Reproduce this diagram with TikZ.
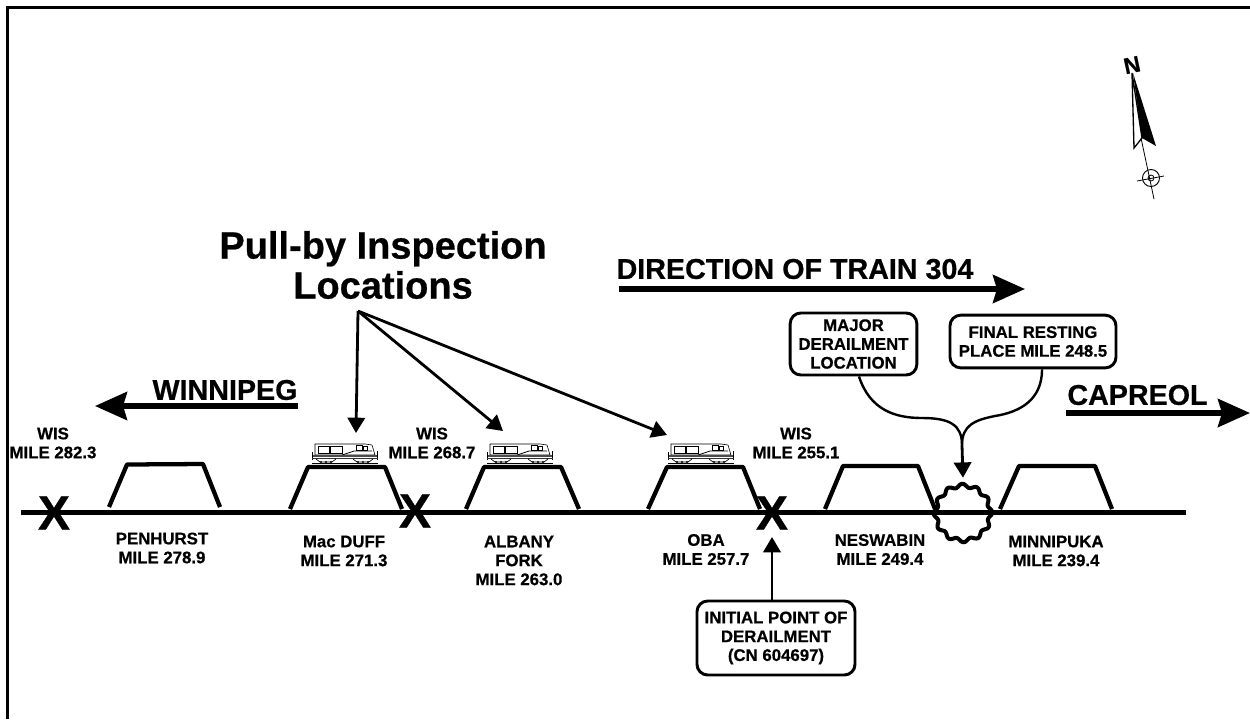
\documentclass[tikz,border=0pt]{standalone}
\usepackage{fontspec}
\setmainfont[BoldFeatures={FakeBold=0.6}]{Liberation Sans}
\usetikzlibrary{arrows.meta}
\tikzset{
  lbl/.style={font=\bfseries\fontsize{12.6}{14.2}\selectfont,align=center,inner sep=0pt},
  big/.style={font=\bfseries\fontsize{21.5}{25}\selectfont,inner sep=0pt},
  huge/.style={font=\bfseries\fontsize{28.5}{30}\selectfont,align=center,inner sep=0pt},
  xmark/.style={font=\bfseries\fontsize{36}{36}\selectfont,inner sep=0pt},
  callout/.style={draw,line width=2.2pt,rounded corners=8pt,inner sep=0pt,font=\bfseries\fontsize{12.6}{14.1}\selectfont,align=center},
  bank/.style={line width=3.2pt,line join=round},
  track/.style={line width=3.9pt},
  bigarrow/.style={line width=4pt,-{Stealth[length=24pt,width=21pt,inset=3pt]}},
  pointer/.style={line width=2.1pt,-{Triangle[length=11.5pt,width=13pt]}},
  curve/.style={line width=1.8pt},
  loco/.pic={
    \draw[line width=.45pt,fill=white] (3,11) -- (3,2) -- (53,2) -- (60,3) -- (63,13) -- (3,13) -- cycle;
    \draw[line width=.5pt] (6,4) rectangle (17,11);
    \draw[line width=.5pt] (18,4) rectangle (30,11);
    \draw[line width=.5pt] (44,3) rectangle (50,8);
    \draw[line width=.5pt] (51,4) rectangle (55,8);
    \draw[line width=.6pt] (30,13) -- (42,9) -- (60,9);
    \draw[line width=1pt,black!70] (0,14) -- (65,14);
    \draw[line width=.5pt] (0,10) -- (0,18);
    \draw[line width=.5pt] (65,9) -- (65,18);
    \draw[line width=1.1pt,black!80] (0,16.5) -- (66,16.5);
    \draw[line width=.5pt] (4,17) -- (8,20) -- (20,20) -- (24,17);
    \draw[line width=.5pt] (41,17) -- (45,20) -- (57,20) -- (61,17);
    \foreach \w in {9,14,19,46,51,56} \fill (\w,20) circle (1.1);
    \draw[line width=.7pt] (0,21) -- (66,21);
  }
}
\begin{document}
\begin{tikzpicture}[x=0.75pt,y=-0.75pt]
\useasboundingbox (0,0) rectangle (1250,719);
% frame
\draw[line width=2.5pt] (7.5,719) -- (7.5,7.5) -- (1250,7.5);
% track
\coordinate (trackL) at (21,512.5);
\coordinate (trackR) at (1186,512.5);
\draw[track] (trackL) -- (trackR);
% banks
\draw[bank] (109,507) -- (127,464.5) -- (203,464) -- (220,507);
\draw[bank] (290,509) -- (308,467) -- (385,467) -- (402,509);
\draw[bank] (466,509) -- (484,467) -- (561,467) -- (579,509);
\draw[bank] (648,509) -- (667,467) -- (743,467) -- (760,509);
\draw[bank] (825,509) -- (843,466) -- (918,466) -- (935,509);
\draw[bank] (1000,509) -- (1019,466) -- (1095,466) -- (1112,509);
% X marks
\node[xmark] (x1) at (54,513) {X};
\node[xmark] (x2) at (415,511) {X};
\node[xmark] (x3) at (772,513) {X};
% locos
\pic (loco1) at (312,442) {loco};
\pic (loco2) at (487,442) {loco};
\pic (loco3) at (668,442) {loco};
% WIS labels
\node[lbl] (wis1) at (53,443) {WIS\\MILE 282.3};
\node[lbl] (wis2) at (432,443) {WIS\\MILE 268.7};
\node[lbl] (wis3) at (796,443) {WIS\\MILE 255.1};
% station labels
\node[lbl] (st1) at (162,548) {PENHURST\\MILE 278.9};
\node[lbl] (st2) at (344,551) {Mac DUFF\\MILE 271.3};
\node[lbl] (st3) at (519,560.5) {ALBANY\\FORK\\MILE 263.0};
\node[lbl] (st4) at (706,549.5) {OBA\\MILE 257.7};
\node[lbl] (st5) at (880,549.5) {NESWABIN\\MILE 249.4};
\node[lbl] (st6) at (1056,551) {MINNIPUKA\\MILE 239.4};
% headings
\node[huge] (pull) at (383,265) {Pull-by Inspection\\Locations};
\node[big] (dir) at (795,269) {DIRECTION OF TRAIN 304};
\node[big] (win) at (225,390) {WINNIPEG};
\node[big] (cap) at (1137.5,395) {CAPREOL};
% big arrows
\coordinate (dirA) at (619,289);
\coordinate (dirB) at (1025,289);
\draw[bigarrow] (dirA) -- (dirB);
\coordinate (winA) at (298,406);
\coordinate (winB) at (95,406);
\draw[bigarrow] (winA) -- (winB);
\coordinate (capA) at (1066,413);
\coordinate (capB) at (1250,413);
\draw[bigarrow] (capA) -- (capB);
% pull-by pointers
\coordinate (hub) at (358,311);
\coordinate (t1) at (356,433);
\coordinate (t2) at (503,431);
\coordinate (t3) at (667,435);
\draw[pointer] (hub) -- (t1);
\draw[pointer] (hub) -- (t2);
\draw[pointer] (hub) -- (t3);
% callouts
\node[callout,minimum width=95pt,minimum height=46.5pt] (major) at (853.5,344) {MAJOR\\DERAILMENT\\LOCATION};
\node[callout,minimum width=124.5pt,minimum height=39.5pt] (final) at (1033,341.5) {FINAL RESTING\\PLACE MILE 248.5};
\node[callout,minimum width=118.5pt,minimum height=55.5pt] (initial) at (776,638) {INITIAL POINT OF\\DERAILMENT\\(CN 604697)};
% gear
\node[circle,minimum size=52.5pt,inner sep=0pt] (gear) at (963,513) {};
\draw[line width=3pt,line join=round] plot[domain=0:360,samples=145,smooth] ({963+27.5*cos(\x)+1.8*cos(\x)*cos(12*\x+15)},{513+27.5*sin(\x)+1.8*sin(\x)*cos(12*\x+15)}) -- cycle;
% connectors
\coordinate (join) at (962,445);
\draw[curve] ([xshift=4.1pt]major.south) .. controls (870,410) and (895,418) .. (922,418) .. controls (950,418) and (962,425) .. (join);
\draw[curve] ([xshift=6.8pt]final.south) .. controls (1042,400) and (1020,412) .. (995,416) .. controls (975,420) and (962,425) .. (join);
\draw[pointer] (join) -- (gear.north);
\coordinate (xtip) at (772,537);
\draw[pointer] ([xshift=-3pt]initial.north) -- (xtip);
% north arrow
\fill[white,draw=black,line width=1pt,line join=miter] (1132,73) -- (1134,148) -- (1142,138) -- cycle;
\fill[line join=miter] (1133,73) -- (1156,146) -- (1142,138) -- cycle;
\coordinate (nTop) at (1141,138);
\coordinate (nBot) at (1154,199);
\draw[line width=.6pt] (nTop) -- (nBot);
\draw[line width=.7pt] (1151,178) circle (8.5);
\draw[line width=.6pt] (1151,178) circle (3);
\coordinate (cL) at (1137,181);
\coordinate (cR) at (1164,176);
\draw[line width=.6pt] (cL) -- (cR);
\node[font=\bfseries\fontsize{17}{17}\selectfont,inner sep=0pt,rotate=12] (north) at (1132,65) {N};
\end{tikzpicture}
\end{document}
